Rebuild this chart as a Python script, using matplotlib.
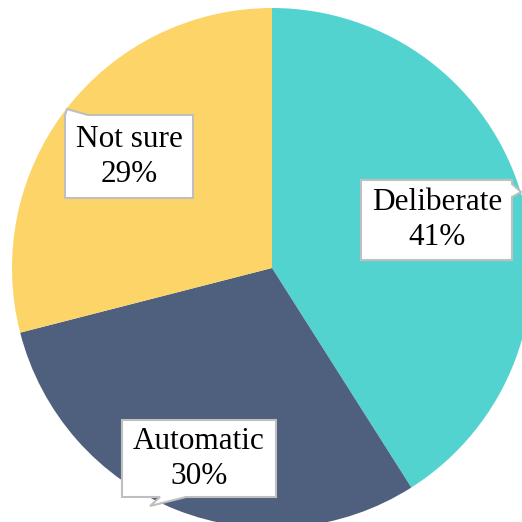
import matplotlib
matplotlib.use("Agg")
import matplotlib.pyplot as plt
from matplotlib.patches import Polygon
from matplotlib.transforms import Affine2D

categories = ["Deliberate", "Automatic", "Not sure"]
shares = [41, 30, 29]
colors = ["#53D3D0", "#4E607E", "#FDD467"]

W = H = 522
fig = plt.figure(figsize=(W / 100, H / 100), dpi=100)
ax = fig.add_axes([0, 0, 1, 1])

ax.pie(shares, colors=colors, startangle=90, counterclock=False,
       radius=1, center=(0, 0), wedgeprops=dict(linewidth=0))

# pie center and radius in pixels (y downward); the pie runs off the right and bottom
cx, cy, r = 272, 268, 260
ax.set_aspect("equal")
ax.set_xlim(-cx / r, (W - cx) / r)
ax.set_ylim(-(H - cy) / r, cy / r)
ax.set_axis_off()

# pixel coordinates, origin top-left
px = Affine2D().scale(1 / W, -1 / H).translate(0, 1) + fig.transFigure

# callout outlines (box plus pointer), in pixels
callouts = {
    "Deliberate": [(361, 180), (512, 180), (512, 184), (521, 192), (512, 197),
                   (512, 260), (361, 260)],
    "Automatic": [(122, 420), (276, 420), (276, 497), (186, 497), (150, 506),
                  (160, 497), (122, 497)],
    "Not sure": [(65, 115), (67, 109), (88, 115), (193, 115), (193, 198),
                 (65, 198)],
}
centers = {"Deliberate": (437, 220), "Automatic": (199, 459), "Not sure": (129, 157)}

for name, val in zip(categories, shares):
    poly = Polygon(callouts[name], closed=True, transform=px,
                   facecolor="white", edgecolor="#BFBFBF", linewidth=1.5)
    fig.add_artist(poly)
    x, y = centers[name]
    fig.text(x / W, 1 - y / H, f"{name}\n{val}%", ha="center", va="center",
             fontsize=22.5, family="Liberation Serif", linespacing=1.25,
             color="black")

fig.savefig("out.png", dpi=100)
